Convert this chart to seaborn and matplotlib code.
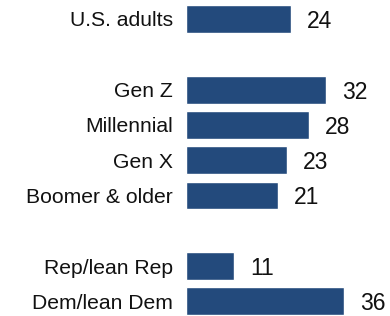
import matplotlib
matplotlib.use("Agg")
import matplotlib.pyplot as plt
import seaborn as sns
import pandas as pd

# data
groups = ['U.S. adults', 'Gen Z', 'Millennial', 'Gen X', 'Boomer & older',
          'Rep/lean Rep', 'Dem/lean Dem']
values = [24, 32, 28, 23, 21, 11, 36]
# blank slots separate the three blocks
order = ['U.S. adults', ' ', 'Gen Z', 'Millennial', 'Gen X', 'Boomer & older',
         '  ', 'Rep/lean Rep', 'Dem/lean Dem']

df = pd.DataFrame({'group': groups, 'value': values})

sns.set_style('white')
plt.rcParams['font.family'] = ['Liberation Sans', 'DejaVu Sans']

fig = plt.figure(figsize=(3.9, 3.16), dpi=100)
ax = fig.add_axes([186 / 390, 0, 1 - 186 / 390, 1])

sns.barplot(data=df, x='value', y='group', order=order, orient='h',
            color='#234a7c', saturation=1, width=0.79, ax=ax)

labels = ax.bar_label(ax.containers[0], padding=11.5, fontsize=16.5, color='#111111')
for t in labels:
    t.set_va('center_baseline')

ax.set_xlim(0, 204 / 4.39)
ax.set_ylim(8.414, -0.538)
ax.set_xlabel('')
ax.set_ylabel('')
ax.set_xticks([])
ax.tick_params(axis='y', length=0, pad=9.5, labelsize=15.2, labelcolor='#111111')
sns.despine(ax=ax, left=True, bottom=True)

fig.savefig('out.png', dpi=100)
